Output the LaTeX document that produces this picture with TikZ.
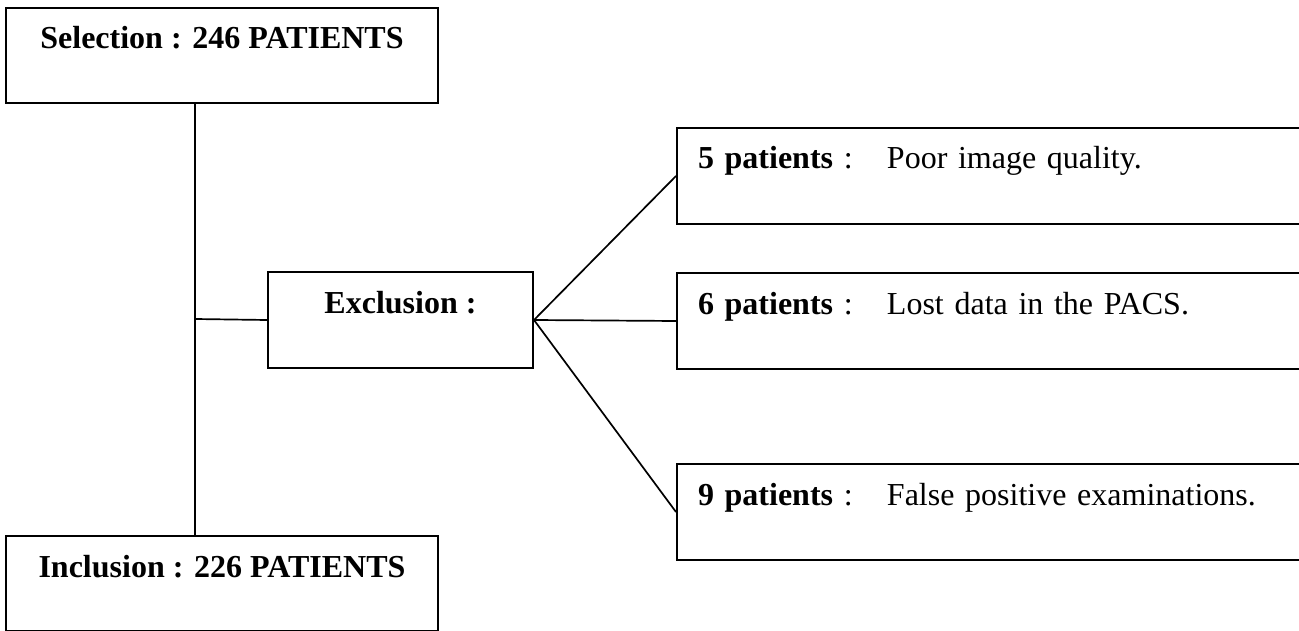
\documentclass[tikz,border=0pt]{standalone}
\usepackage{fontspec}
\setmainfont{Liberation Serif}
\begin{document}
\begin{tikzpicture}[x=1pt,y=-1pt,
  box/.style={draw, line width=2pt, inner ysep=0pt, anchor=north west,
    font=\fontsize{32}{38}\selectfont},
  cbox/.style={box, inner xsep=0pt, text height=41pt},
  rbox/.style={box, inner xsep=21pt, text width=600pt, align=left,
    text height=41pt, text depth=55pt},
  conn/.style={line width=1.7pt}]
\clip (0,0) rectangle (1299,631);
\fill[white] (0,0) rectangle (1299,631);
\node[cbox, minimum width=432pt, text depth=54pt] (sel) at (5,7) {\textbf{Selection : 246 PATIENTS}};
\node[cbox, minimum width=265pt, text depth=55pt] (exc) at (267,271) {\textbf{Exclusion :}};
\node[cbox, minimum width=432pt, text depth=54pt] (inc) at (5,535) {\textbf{Inclusion : 226 PATIENTS}};
\node[rbox] (r1) at (676,127) {\makebox[189pt][l]{\textbf{5 patients} :}Poor image quality.};
\node[rbox] (r2) at (676,272) {\makebox[189pt][l]{\textbf{6 patients} :}Lost data in the PACS.};
\node[rbox] (r3) at (676,463) {\makebox[189pt][l]{\textbf{9 patients} :}False positive examinations.};
\coordinate (trunk) at (195,319);
\draw[conn] (sel.south -| trunk) -- (inc.north -| trunk);
\draw[conn] (trunk) -- (exc.west);
\draw[conn] (exc.east) -- (r1.west);
\draw[conn] (exc.east) -- (r2.west);
\draw[conn] (exc.east) -- (r3.west);
\end{tikzpicture}
\end{document}
